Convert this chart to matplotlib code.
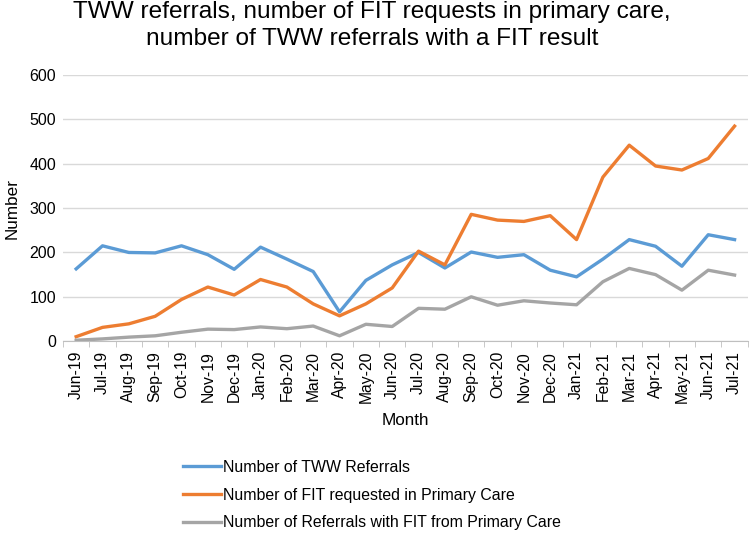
import matplotlib.pyplot as plt
import numpy as np

plt.rcParams['font.family'] = ['Liberation Sans', 'DejaVu Sans']

# Meses (Jun-19 a Jul-21)
meses = ['Jun-19', 'Jul-19', 'Aug-19', 'Sep-19', 'Oct-19', 'Nov-19', 'Dec-19',
         'Jan-20', 'Feb-20', 'Mar-20', 'Apr-20', 'May-20', 'Jun-20', 'Jul-20',
         'Aug-20', 'Sep-20', 'Oct-20', 'Nov-20', 'Dec-20', 'Jan-21', 'Feb-21',
         'Mar-21', 'Apr-21', 'May-21', 'Jun-21', 'Jul-21']

tww_referrals = [163, 215, 200, 199, 215, 195, 162, 212, 185, 157, 66, 137, 172, 200,
                 165, 201, 189, 195, 160, 145, 185, 229, 214, 169, 240, 229]
fit_requested = [10, 31, 39, 56, 94, 122, 104, 139, 122, 84, 57, 84, 120, 203,
                 172, 286, 273, 270, 283, 229, 370, 442, 395, 386, 412, 485]
referrals_fit = [2, 5, 9, 12, 20, 27, 26, 32, 28, 34, 12, 38, 33, 74,
                 72, 100, 81, 91, 86, 82, 134, 164, 150, 115, 160, 149]

x = np.arange(len(meses))

fig = plt.figure(figsize=(7.5, 5.33), dpi=100)
ax = fig.add_axes([0.084, 0.360, 0.913, 0.499])

ax.plot(x, tww_referrals, color='#5B9BD5', lw=2.4, label='Number of TWW Referrals')
ax.plot(x, fit_requested, color='#ED7D31', lw=2.4, label='Number of FIT requested in Primary Care')
ax.plot(x, referrals_fit, color='#A5A5A5', lw=2.4, label='Number of Referrals with FIT from Primary Care')

ax.set_xlim(-0.5, len(meses) - 0.5)
ax.set_ylim(0, 600)
ax.set_yticks(range(0, 601, 100))
ax.set_xticks(x)
ax.set_xticklabels(meses, rotation=90, fontsize=11.3)
ax.set_xticks(np.arange(-0.5, len(meses), 1), minor=True)
ax.tick_params(axis='x', which='major', length=0, pad=7)
ax.tick_params(axis='x', which='minor', length=4, color='#bfbfbf')
ax.tick_params(axis='y', length=0, labelsize=11.5, pad=5)

ax.grid(axis='y', color='#d9d9d9', lw=1)
ax.set_axisbelow(True)
for s in ['top', 'right', 'left']:
    ax.spines[s].set_visible(False)
ax.spines['bottom'].set_color('#bfbfbf')

ax.set_xlabel('Month', fontsize=12.3, labelpad=7)
ax.set_ylabel('Number', fontsize=12.3, labelpad=7)

fig.suptitle('TWW referrals, number of FIT requests in primary care,\nnumber of TWW referrals with a FIT result',
             fontsize=17.6, y=0.998, x=0.496, linespacing=1.3)

fig.legend(loc='upper left', bbox_to_anchor=(0.244, 0.137), frameon=False,
           fontsize=11.4, handlelength=2.4, handletextpad=0.15, labelspacing=0.8,
           borderaxespad=0, borderpad=0)

plt.savefig('out.png', dpi=100)
